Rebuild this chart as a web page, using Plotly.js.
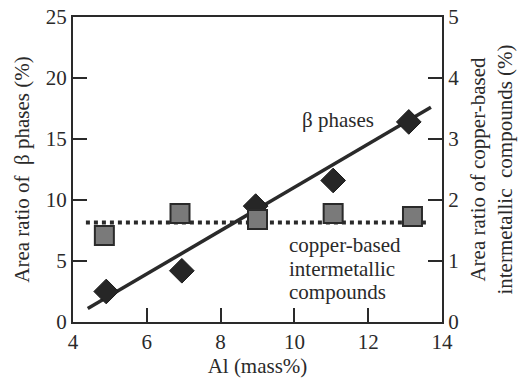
<!DOCTYPE html>
<html>
<head>
<meta charset="utf-8">
<script src="https://cdn.plot.ly/plotly-3.0.1.min.js"></script>
<style>
body { margin: 0; }
#chart text { font-family: 'Liberation Serif', 'Times New Roman', serif !important; }
</style>
</head>
<body>
<div id="chart"></div>
<script>
// Data
const betaAl = [4.9, 6.95, 8.95, 11.05, 13.1];
const betaArea = [2.5, 4.2, 9.5, 11.6, 16.4];
const cuAl = [4.85, 6.9, 9.0, 11.05, 13.2];
const cuArea = [1.42, 1.78, 1.68, 1.78, 1.73];
const fitAl = [4.4, 13.7];
const fitBeta = [1.1, 17.6];
const meanAl = [4.35, 13.6];
const meanCu = [1.63, 1.63];
const xTicks = [4, 6, 8, 10, 12, 14];
const yTicks = [0, 5, 10, 15, 20, 25];
const y2Ticks = [0, 1, 2, 3, 4, 5];
const cuLabel = ['copper-based', 'intermetallic', 'compounds'];

const INK = '#2a2a2a';
const FS = 21;
function f(size) { return {family: 'Liberation Serif', size: size, color: INK}; }

const traces = [
  {x: fitAl, y: fitBeta, mode: 'lines', line: {color: INK, width: 3.5}, yaxis: 'y', showlegend: false, hoverinfo: 'skip'},
  {x: betaAl, y: betaArea, mode: 'markers', yaxis: 'y', showlegend: false,
   marker: {symbol: 'diamond', size: 19, color: '#262626', line: {color: '#1a1a1a', width: 1}}},
  {x: meanAl, y: meanCu, mode: 'lines', line: {color: INK, width: 4, dash: 'dot'}, yaxis: 'y2', showlegend: false, hoverinfo: 'skip'},
  {x: cuAl, y: cuArea, mode: 'markers', yaxis: 'y2', showlegend: false,
   marker: {symbol: 'square', size: 19, color: '#7a7a7a', line: {color: '#2a2a2a', width: 2}}}
];

function axis(extra) {
  return Object.assign({
    showgrid: false, zeroline: false, showline: true, linecolor: INK, linewidth: 2,
    ticks: 'inside', ticklen: 14, tickwidth: 2, tickcolor: INK,
    tickfont: f(FS)
  }, extra);
}

const layout = {
  width: 521, height: 382,
  margin: {l: 73, r: 79, t: 17, b: 60},
  font: {family: 'Liberation Serif', size: FS, color: INK},
  paper_bgcolor: '#ffffff', plot_bgcolor: '#ffffff',
  xaxis: axis({
    range: [4, 14], tickvals: xTicks, mirror: true,
    title: {text: 'Al (mass%)', font: f(FS), standoff: 4}
  }),
  yaxis: axis({
    range: [0, 25], tickvals: yTicks, mirror: true,
    title: {text: 'Area ratio of  β phases (%)', font: f(FS), standoff: 10}
  }),
  yaxis2: axis({
    range: [0, 5], tickvals: y2Ticks,
    overlaying: 'y', side: 'right',
    title: {text: 'Area ratio of copper-based<br>intermetallic  compounds (%)', font: f(FS), standoff: 12}
  }),
  annotations: [
    {x: 10.15, y: 16.56, xref: 'x', yref: 'y', text: 'β phases', showarrow: false,
     xanchor: 'left', yanchor: 'middle', font: f(FS)}
  ].concat(cuLabel.map((t, i) => ({
    x: 9.8, y: [6.31, 4.38, 2.46][i], xref: 'x', yref: 'y', text: t, showarrow: false,
    xanchor: 'left', yanchor: 'middle', font: f(FS)
  })))
};

Plotly.newPlot('chart', traces, layout, {displayModeBar: false});
</script>
</body>
</html>
